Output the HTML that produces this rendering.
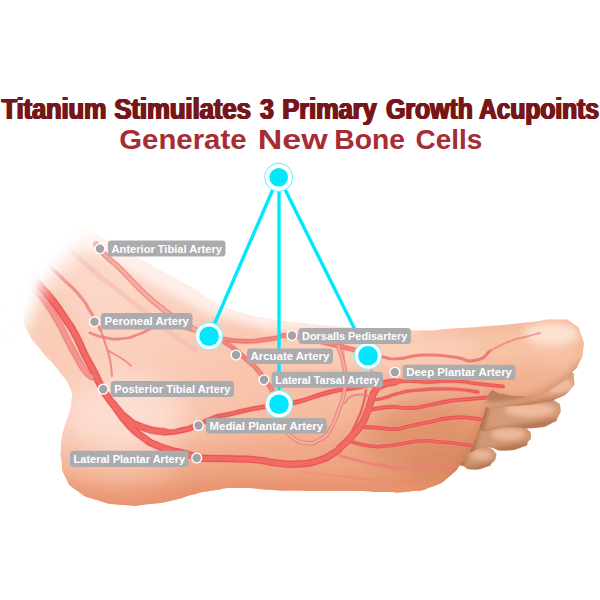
<!DOCTYPE html>
<html><head><meta charset="utf-8">
<style>
html,body{margin:0;padding:0;background:#fff;}
body{width:600px;height:600px;overflow:hidden;font-family:"Liberation Sans",sans-serif;}
svg{display:block}
.lb{font-family:"Liberation Sans",sans-serif;font-weight:bold;font-size:11.8px;fill:#fff;}
.t1{font-family:"Liberation Sans",sans-serif;font-weight:bold;font-size:29.6px;fill:#771619;}
.t2{font-family:"Liberation Sans",sans-serif;font-weight:bold;font-size:28.4px;fill:#a62d33;}
</style></head>
<body>
<svg width="600" height="600" viewBox="0 0 600 600">
<defs>
<clipPath id="fc"><path d="M20.0,185.0 C38.3,189.3 36.0,197.3 60.0,213.0 C84.0,228.7 62.0,214.8 92.0,232.0 C122.0,249.2 117.3,246.3 150.0,264.5 C182.7,282.7 168.3,273.8 190.0,286.5 C211.7,299.2 198.3,293.8 215.0,302.5 C231.7,311.2 220.0,306.7 240.0,312.5 C260.0,318.3 255.0,316.5 275.0,320.0 C295.0,323.5 275.0,320.5 300.0,323.0 C325.0,325.5 311.7,325.0 350.0,327.5 C388.3,330.0 380.7,330.2 415.0,330.5 C449.3,330.8 428.0,330.0 453.0,328.5 C478.0,327.0 465.3,328.0 490.0,326.0 C514.7,324.0 505.0,324.7 527.0,322.5 C549.0,320.3 540.7,319.2 556.0,319.5 C571.3,319.8 564.5,318.0 573.0,323.5 C581.5,329.0 578.2,326.8 581.5,336.0 C584.8,345.2 584.0,341.7 583.0,351.0 C582.0,360.3 582.0,357.0 578.5,364.0 C575.0,371.0 580.0,364.7 572.5,372.0 C565.0,379.3 567.5,378.5 556.0,386.0 C544.5,393.5 550.3,391.2 538.0,394.5 C525.7,397.8 531.3,396.3 519.0,396.0 C506.7,395.7 510.7,394.8 501.0,393.5 C491.3,392.2 495.3,386.5 490.0,392.0 C484.7,397.5 488.7,398.0 485.0,410.0 C481.3,422.0 483.4,415.8 479.0,428.0 C474.6,440.2 477.2,435.7 471.7,446.7 C466.2,457.7 469.8,451.2 462.5,461.0 C455.2,470.8 460.2,467.3 449.7,476.0 C439.2,484.7 444.6,481.9 431.0,487.0 C417.4,492.1 426.0,489.7 409.0,491.4 C392.0,493.1 398.7,492.1 380.0,492.0 C361.3,491.9 384.0,491.5 353.0,491.0 C322.0,490.5 324.7,491.5 287.0,490.5 C249.3,489.5 264.7,488.0 240.0,488.0 C215.3,488.0 228.7,488.3 213.0,490.5 C197.3,492.7 206.3,491.2 193.0,494.5 C179.7,497.8 187.3,497.1 173.0,500.3 C158.7,503.5 166.7,502.4 150.0,504.0 C133.3,505.6 140.7,506.3 123.0,505.0 C105.3,503.7 112.3,504.8 97.0,500.0 C81.7,495.2 87.5,498.2 77.0,490.5 C66.5,482.8 70.7,487.2 65.5,477.0 C60.3,466.8 63.0,469.7 61.5,460.0 C60.0,450.3 60.8,455.7 61.0,448.0 C61.2,440.3 60.7,444.7 62.0,437.0 C63.3,429.3 62.7,433.0 65.0,425.0 C67.3,417.0 66.8,421.0 69.0,413.0 C71.2,405.0 71.2,409.3 71.5,401.0 C71.8,392.7 74.2,398.0 70.0,388.0 C65.8,378.0 69.0,384.0 59.0,371.0 C49.0,358.0 50.3,362.0 40.0,349.0 C29.7,336.0 33.5,342.7 28.0,332.0 C22.5,321.3 24.8,329.3 23.5,317.0 C22.2,304.7 26.8,317.3 24.0,295.0 C21.2,272.7 21.3,281.7 15.0,250.0 C8.7,218.3 3.3,221.7 5.0,200.0 C6.7,178.3 1.7,180.7 20.0,185.0Z"/></clipPath>
<clipPath id="c2"><path d="M485.0,388.0 C496.7,379.3 498.3,385.3 520.0,380.0 C541.7,374.7 534.0,375.0 550.0,372.0 C566.0,369.0 560.0,368.7 568.0,371.0 C576.0,373.3 573.3,372.7 574.0,379.0 C574.7,385.3 576.0,383.3 570.0,390.0 C564.0,396.7 565.7,394.7 556.0,399.0 C546.3,403.3 555.7,400.7 541.0,403.0 C526.3,405.3 530.7,405.0 512.0,406.0 C493.3,407.0 494.0,412.0 485.0,406.0 C476.0,400.0 473.3,396.7 485.0,388.0Z"/></clipPath>
<clipPath id="c3"><path d="M480.0,402.0 C490.7,392.7 494.3,400.5 510.0,400.0 C525.7,399.5 515.0,400.8 527.0,400.5 C539.0,400.2 536.3,398.7 546.0,399.0 C555.7,399.3 551.2,398.5 556.0,401.5 C560.8,404.5 559.8,402.8 560.5,408.0 C561.2,413.2 560.8,412.0 558.0,417.0 C555.2,422.0 560.0,419.3 552.0,423.0 C544.0,426.7 548.7,426.7 534.0,428.0 C519.3,429.3 526.7,427.0 508.0,427.0 C489.3,427.0 487.3,436.3 478.0,428.0 C468.7,419.7 469.3,411.3 480.0,402.0Z"/></clipPath>
<clipPath id="c4"><path d="M472.0,426.0 C483.3,417.3 484.7,424.2 500.0,424.0 C515.3,423.8 509.0,423.8 518.0,425.5 C527.0,427.2 522.7,425.5 527.0,429.0 C531.3,432.5 530.7,431.7 531.0,436.0 C531.3,440.3 530.7,438.4 528.0,442.0 C525.3,445.6 530.8,443.9 523.0,446.7 C515.2,449.5 517.0,450.2 504.7,450.5 C492.4,450.8 498.9,447.7 486.0,447.5 C473.1,447.3 470.7,457.2 466.0,450.0 C461.3,442.8 460.7,434.7 472.0,426.0Z"/></clipPath>
<clipPath id="c5"><path d="M462.0,448.0 C469.7,442.7 469.3,446.2 478.0,446.0 C486.7,445.8 482.5,445.7 488.0,447.5 C493.5,449.3 491.8,448.3 494.5,451.5 C497.2,454.7 496.8,453.2 496.0,457.0 C495.2,460.8 495.3,459.7 492.0,463.0 C488.7,466.3 492.8,464.8 486.0,467.0 C479.2,469.2 479.4,469.8 471.7,469.5 C464.0,469.2 468.6,468.5 463.0,466.0 C457.4,463.5 455.3,468.0 455.0,462.0 C454.7,456.0 454.3,453.3 462.0,448.0Z"/></clipPath>
<linearGradient id="skin" gradientUnits="userSpaceOnUse" x1="150" y1="250" x2="330" y2="500">
<stop offset="0" stop-color="#fcd8ca"/><stop offset="0.45" stop-color="#f9c7b0"/><stop offset="1" stop-color="#f3b394"/>
</linearGradient>
<linearGradient id="toeg" gradientUnits="userSpaceOnUse" x1="0" y1="-14" x2="0" y2="14">
<stop offset="0" stop-color="#d99873"/><stop offset="0.45" stop-color="#f3bb98"/><stop offset="1" stop-color="#c98561"/>
</linearGradient>
<linearGradient id="fade" gradientUnits="userSpaceOnUse" x1="153" y1="153" x2="178" y2="178">
<stop offset="0" stop-color="#fff" stop-opacity="1"/><stop offset="0.23" stop-color="#fff" stop-opacity="0.86"/><stop offset="0.44" stop-color="#fff" stop-opacity="0.5"/><stop offset="0.71" stop-color="#fff" stop-opacity="0.17"/><stop offset="1" stop-color="#fff" stop-opacity="0"/>
</linearGradient>
<filter id="b2" x="-30%" y="-30%" width="160%" height="160%"><feGaussianBlur stdDeviation="2"/></filter>
<filter id="b4" x="-30%" y="-30%" width="160%" height="160%"><feGaussianBlur stdDeviation="4"/></filter>
<filter id="b8" x="-30%" y="-30%" width="160%" height="160%"><feGaussianBlur stdDeviation="8"/></filter>
<filter id="b14" x="-40%" y="-40%" width="180%" height="180%"><feGaussianBlur stdDeviation="14"/></filter>
<filter id="b1" x="-5%" y="-5%" width="110%" height="110%"><feGaussianBlur stdDeviation="0.7"/></filter>
</defs>
<rect width="600" height="600" fill="#fff"/>

<g filter="url(#b1)">
<!-- small toes (beneath body) -->
<g>
 <path d="M462.0,448.0 C469.7,442.7 469.3,446.2 478.0,446.0 C486.7,445.8 482.5,445.7 488.0,447.5 C493.5,449.3 491.8,448.3 494.5,451.5 C497.2,454.7 496.8,453.2 496.0,457.0 C495.2,460.8 495.3,459.7 492.0,463.0 C488.7,466.3 492.8,464.8 486.0,467.0 C479.2,469.2 479.4,469.8 471.7,469.5 C464.0,469.2 468.6,468.5 463.0,466.0 C457.4,463.5 455.3,468.0 455.0,462.0 C454.7,456.0 454.3,453.3 462.0,448.0Z" fill="#cf9470"/>
 <g clip-path="url(#c5)">
   <ellipse cx="481" cy="455" rx="11" ry="5.5" fill="#e9b394" filter="url(#b2)"/>
   <path d="M452,471 L500,461 L500,476 L452,476Z" fill="#a8643f" opacity=".65" filter="url(#b2)"/>
   <path d="M452,440 L468,440 L463,470 L452,470Z" fill="#96512f" opacity=".6" filter="url(#b2)"/>
 </g>
 <path d="M472.0,426.0 C483.3,417.3 484.7,424.2 500.0,424.0 C515.3,423.8 509.0,423.8 518.0,425.5 C527.0,427.2 522.7,425.5 527.0,429.0 C531.3,432.5 530.7,431.7 531.0,436.0 C531.3,440.3 530.7,438.4 528.0,442.0 C525.3,445.6 530.8,443.9 523.0,446.7 C515.2,449.5 517.0,450.2 504.7,450.5 C492.4,450.8 498.9,447.7 486.0,447.5 C473.1,447.3 470.7,457.2 466.0,450.0 C461.3,442.8 460.7,434.7 472.0,426.0Z" fill="#d29875"/>
 <g clip-path="url(#c4)">
   <ellipse cx="508" cy="434" rx="17" ry="6.5" fill="#ecb798" filter="url(#b2)"/>
   <path d="M460,453 L535,441 L535,460 L460,460Z" fill="#a8643f" opacity=".65" filter="url(#b2)"/>
   <path d="M462,418 L482,420 L474,452 L462,452Z" fill="#96512f" opacity=".6" filter="url(#b2)"/>
   <path d="M476,428 L528,424 L528,419 L476,420Z" fill="#96512f" opacity=".5" filter="url(#b2)"/>
 </g>
 <path d="M480.0,402.0 C490.7,392.7 494.3,400.5 510.0,400.0 C525.7,399.5 515.0,400.8 527.0,400.5 C539.0,400.2 536.3,398.7 546.0,399.0 C555.7,399.3 551.2,398.5 556.0,401.5 C560.8,404.5 559.8,402.8 560.5,408.0 C561.2,413.2 560.8,412.0 558.0,417.0 C555.2,422.0 560.0,419.3 552.0,423.0 C544.0,426.7 548.7,426.7 534.0,428.0 C519.3,429.3 526.7,427.0 508.0,427.0 C489.3,427.0 487.3,436.3 478.0,428.0 C468.7,419.7 469.3,411.3 480.0,402.0Z" fill="#d59b78"/>
 <g clip-path="url(#c3)">
   <ellipse cx="530" cy="410" rx="25" ry="7" fill="#eebb9c" filter="url(#b2)"/>
   <path d="M470,433 L565,417 L565,440 L470,440Z" fill="#a8643f" opacity=".65" filter="url(#b2)"/>
   <path d="M470,396 L492,396 L484,430 L470,430Z" fill="#96512f" opacity=".6" filter="url(#b2)"/>
   <path d="M488,404 L556,398 L556,392 L488,394Z" fill="#96512f" opacity=".45" filter="url(#b2)"/>
 </g>
 <path d="M485.0,388.0 C496.7,379.3 498.3,385.3 520.0,380.0 C541.7,374.7 534.0,375.0 550.0,372.0 C566.0,369.0 560.0,368.7 568.0,371.0 C576.0,373.3 573.3,372.7 574.0,379.0 C574.7,385.3 576.0,383.3 570.0,390.0 C564.0,396.7 565.7,394.7 556.0,399.0 C546.3,403.3 555.7,400.7 541.0,403.0 C526.3,405.3 530.7,405.0 512.0,406.0 C493.3,407.0 494.0,412.0 485.0,406.0 C476.0,400.0 473.3,396.7 485.0,388.0Z" fill="#dca280"/>
 <g clip-path="url(#c2)">
   <ellipse cx="556" cy="385" rx="16" ry="8" fill="#efbd9f" filter="url(#b2)"/>
   <path d="M478,411 L575,393 L575,415 L478,418Z" fill="#a8643f" opacity=".55" filter="url(#b2)"/>
   <path d="M486,402 C520,402 546,394 570,374 L572,360 L486,380Z" fill="#96512f" opacity=".45" filter="url(#b2)"/>
 </g>
</g>
<!-- body -->
<path d="M20.0,185.0 C38.3,189.3 36.0,197.3 60.0,213.0 C84.0,228.7 62.0,214.8 92.0,232.0 C122.0,249.2 117.3,246.3 150.0,264.5 C182.7,282.7 168.3,273.8 190.0,286.5 C211.7,299.2 198.3,293.8 215.0,302.5 C231.7,311.2 220.0,306.7 240.0,312.5 C260.0,318.3 255.0,316.5 275.0,320.0 C295.0,323.5 275.0,320.5 300.0,323.0 C325.0,325.5 311.7,325.0 350.0,327.5 C388.3,330.0 380.7,330.2 415.0,330.5 C449.3,330.8 428.0,330.0 453.0,328.5 C478.0,327.0 465.3,328.0 490.0,326.0 C514.7,324.0 505.0,324.7 527.0,322.5 C549.0,320.3 540.7,319.2 556.0,319.5 C571.3,319.8 564.5,318.0 573.0,323.5 C581.5,329.0 578.2,326.8 581.5,336.0 C584.8,345.2 584.0,341.7 583.0,351.0 C582.0,360.3 582.0,357.0 578.5,364.0 C575.0,371.0 580.0,364.7 572.5,372.0 C565.0,379.3 567.5,378.5 556.0,386.0 C544.5,393.5 550.3,391.2 538.0,394.5 C525.7,397.8 531.3,396.3 519.0,396.0 C506.7,395.7 510.7,394.8 501.0,393.5 C491.3,392.2 495.3,386.5 490.0,392.0 C484.7,397.5 488.7,398.0 485.0,410.0 C481.3,422.0 483.4,415.8 479.0,428.0 C474.6,440.2 477.2,435.7 471.7,446.7 C466.2,457.7 469.8,451.2 462.5,461.0 C455.2,470.8 460.2,467.3 449.7,476.0 C439.2,484.7 444.6,481.9 431.0,487.0 C417.4,492.1 426.0,489.7 409.0,491.4 C392.0,493.1 398.7,492.1 380.0,492.0 C361.3,491.9 384.0,491.5 353.0,491.0 C322.0,490.5 324.7,491.5 287.0,490.5 C249.3,489.5 264.7,488.0 240.0,488.0 C215.3,488.0 228.7,488.3 213.0,490.5 C197.3,492.7 206.3,491.2 193.0,494.5 C179.7,497.8 187.3,497.1 173.0,500.3 C158.7,503.5 166.7,502.4 150.0,504.0 C133.3,505.6 140.7,506.3 123.0,505.0 C105.3,503.7 112.3,504.8 97.0,500.0 C81.7,495.2 87.5,498.2 77.0,490.5 C66.5,482.8 70.7,487.2 65.5,477.0 C60.3,466.8 63.0,469.7 61.5,460.0 C60.0,450.3 60.8,455.7 61.0,448.0 C61.2,440.3 60.7,444.7 62.0,437.0 C63.3,429.3 62.7,433.0 65.0,425.0 C67.3,417.0 66.8,421.0 69.0,413.0 C71.2,405.0 71.2,409.3 71.5,401.0 C71.8,392.7 74.2,398.0 70.0,388.0 C65.8,378.0 69.0,384.0 59.0,371.0 C49.0,358.0 50.3,362.0 40.0,349.0 C29.7,336.0 33.5,342.7 28.0,332.0 C22.5,321.3 24.8,329.3 23.5,317.0 C22.2,304.7 26.8,317.3 24.0,295.0 C21.2,272.7 21.3,281.7 15.0,250.0 C8.7,218.3 3.3,221.7 5.0,200.0 C6.7,178.3 1.7,180.7 20.0,185.0Z" fill="url(#skin)"/>
<g clip-path="url(#fc)">
  <!-- lower salmon band (sole) -->
  <path d="M40,455 C120,462 220,440 320,436 C380,434 430,400 500,395 L520,520 L40,520Z" fill="#efa583" opacity="0.95" filter="url(#b14)"/>
  <!-- ball of foot darker -->
  <ellipse cx="432" cy="445" rx="66" ry="46" fill="#df936c" opacity="0.9" filter="url(#b14)"/>
  <ellipse cx="450" cy="468" rx="42" ry="24" fill="#d4875f" opacity="0.6" filter="url(#b8)"/>
  <!-- sole bottom edge -->
  <path d="M50,470 C80,484 110,486 150,485 C190,481 210,478 287,477 L430,478 L470,460 L470,530 L50,530Z" fill="#e58c65" opacity="0.72" filter="url(#b8)"/>
  <ellipse cx="115" cy="462" rx="65" ry="24" fill="#f8c3aa" opacity="0.7" filter="url(#b14)"/>
  <!-- ankle / upper heel light -->
  <ellipse cx="125" cy="415" rx="60" ry="40" fill="#fde0d5" opacity="0.85" filter="url(#b14)"/>
  <ellipse cx="50" cy="335" rx="36" ry="55" fill="#f9c9b4" opacity="0.75" filter="url(#b14)"/>
  <!-- dorsum highlight along top edge -->
  <path d="M85,215 L150,248 L215,286 L275,307 L350,314 L420,318 L420,331 L350,335 L270,331 L205,313 L140,277 L80,245Z" fill="#fff1ec" opacity="0.92" filter="url(#b4)"/>
  <ellipse cx="375" cy="350" rx="140" ry="19" fill="#fcd3bd" opacity="0.8" filter="url(#b8)"/>
  <!-- big toe -->
  <ellipse cx="528" cy="352" rx="56" ry="26" fill="#f7c3a6" opacity="0.95" filter="url(#b8)"/>
  <ellipse cx="520" cy="376" rx="50" ry="12" fill="#f0af8c" opacity="0.7" filter="url(#b8)"/>
  <ellipse cx="552" cy="334" rx="28" ry="12" fill="#fde4d5" opacity="0.95" filter="url(#b4)"/>
  <path d="M488,396 C520,402 556,392 582,360 L595,385 L520,415Z" fill="#c9855e" opacity="0.75" filter="url(#b4)"/>
  <!-- ball edge shadow -->
  <path d="M493,394 C489,418 478,448 452,480" fill="none" stroke="#b8724d" stroke-width="8" opacity="0.6" filter="url(#b4)"/>
</g>
<!-- arteries -->
<g clip-path="url(#fc)">
<path d="M22.0,274.0 C25.6,278.4 25.1,278.4 32.7,287.3 C40.3,296.2 36.8,290.1 44.7,300.7 C52.6,311.3 49.2,306.6 56.5,319.0 C63.8,331.4 59.8,325.4 66.5,338.0 C73.2,350.6 70.5,346.0 76.5,356.7 C82.5,367.4 79.3,363.2 84.5,370.0 C89.7,376.8 89.5,374.7 92.0,377.0" fill="none" stroke="#f0908a" stroke-width="7.800000000000001" stroke-linecap="round" stroke-linejoin="round" opacity="0.4275" /><path d="M22.0,274.0 C25.6,278.4 25.1,278.4 32.7,287.3 C40.3,296.2 36.8,290.1 44.7,300.7 C52.6,311.3 49.2,306.6 56.5,319.0 C63.8,331.4 59.8,325.4 66.5,338.0 C73.2,350.6 70.5,346.0 76.5,356.7 C82.5,367.4 79.3,363.2 84.5,370.0 C89.7,376.8 89.5,374.7 92.0,377.0" fill="none" stroke="#ee827c" stroke-width="6.2" stroke-linecap="round" stroke-linejoin="round" opacity="0.95" />
<path d="M29.0,272.0 C32.3,276.2 31.1,275.1 39.0,284.7 C46.9,294.3 43.9,289.3 52.7,300.7 C61.5,312.1 57.9,307.6 65.5,319.0 C73.1,330.4 69.2,323.3 75.5,335.0 C81.8,346.7 78.7,342.3 84.5,354.0 C90.3,365.7 87.5,359.3 93.0,370.0 C98.5,380.7 96.3,377.3 101.0,386.0 C105.7,394.7 103.0,390.0 107.0,396.0 C111.0,402.0 108.7,398.7 113.0,404.0 C117.3,409.3 117.7,409.3 120.0,412.0" fill="none" stroke="#f0908a" stroke-width="8.8" stroke-linecap="round" stroke-linejoin="round" opacity="0.45" /><path d="M29.0,272.0 C32.3,276.2 31.1,275.1 39.0,284.7 C46.9,294.3 43.9,289.3 52.7,300.7 C61.5,312.1 57.9,307.6 65.5,319.0 C73.1,330.4 69.2,323.3 75.5,335.0 C81.8,346.7 78.7,342.3 84.5,354.0 C90.3,365.7 87.5,359.3 93.0,370.0 C98.5,380.7 96.3,377.3 101.0,386.0 C105.7,394.7 103.0,390.0 107.0,396.0 C111.0,402.0 108.7,398.7 113.0,404.0 C117.3,409.3 117.7,409.3 120.0,412.0" fill="none" stroke="#e8524f" stroke-width="7.2" stroke-linecap="round" stroke-linejoin="round" opacity="1" />
<path d="M113.0,404.0 C117.0,408.3 115.0,409.2 125.0,417.0 C135.0,424.8 129.7,422.5 143.0,427.5 C156.3,432.5 157.7,430.5 165.0,432.0" fill="none" stroke="#f0908a" stroke-width="8.6" stroke-linecap="round" stroke-linejoin="round" opacity="0.45" /><path d="M113.0,404.0 C117.0,408.3 115.0,409.2 125.0,417.0 C135.0,424.8 129.7,422.5 143.0,427.5 C156.3,432.5 157.7,430.5 165.0,432.0" fill="none" stroke="#e8524f" stroke-width="7.0" stroke-linecap="round" stroke-linejoin="round" opacity="1" />
<path d="M143.0,427.5 C150.3,429.0 151.7,431.2 165.0,432.0 C178.3,432.8 173.3,431.8 183.0,430.0 C192.7,428.2 189.0,428.0 194.0,426.5 C199.0,425.0 196.7,425.8 198.0,425.5" fill="none" stroke="#f0908a" stroke-width="7.0" stroke-linecap="round" stroke-linejoin="round" opacity="0.45" /><path d="M143.0,427.5 C150.3,429.0 151.7,431.2 165.0,432.0 C178.3,432.8 173.3,431.8 183.0,430.0 C192.7,428.2 189.0,428.0 194.0,426.5 C199.0,425.0 196.7,425.8 198.0,425.5" fill="none" stroke="#e8524f" stroke-width="5.4" stroke-linecap="round" stroke-linejoin="round" opacity="1" />
<path d="M198.0,425.5 C203.0,423.0 202.3,421.8 213.0,418.0 C223.7,414.2 218.7,416.7 230.0,414.0 C241.3,411.3 236.0,412.3 247.0,410.0 C258.0,407.7 252.0,409.0 263.0,407.0 C274.0,405.0 268.7,405.7 280.0,404.0 C291.3,402.3 280.3,406.0 297.0,402.0 C313.7,398.0 311.3,396.7 330.0,392.0 C348.7,387.3 336.3,391.0 353.0,388.0 C369.7,385.0 364.3,385.3 380.0,383.0 C395.7,380.7 393.3,381.7 400.0,381.0" fill="none" stroke="#f0908a" stroke-width="6.0" stroke-linecap="round" stroke-linejoin="round" opacity="0.4275" /><path d="M198.0,425.5 C203.0,423.0 202.3,421.8 213.0,418.0 C223.7,414.2 218.7,416.7 230.0,414.0 C241.3,411.3 236.0,412.3 247.0,410.0 C258.0,407.7 252.0,409.0 263.0,407.0 C274.0,405.0 268.7,405.7 280.0,404.0 C291.3,402.3 280.3,406.0 297.0,402.0 C313.7,398.0 311.3,396.7 330.0,392.0 C348.7,387.3 336.3,391.0 353.0,388.0 C369.7,385.0 364.3,385.3 380.0,383.0 C395.7,380.7 393.3,381.7 400.0,381.0" fill="none" stroke="#e8524f" stroke-width="4.4" stroke-linecap="round" stroke-linejoin="round" opacity="0.95" />
<path d="M116.0,408.0 C120.0,413.3 118.7,414.0 128.0,424.0 C137.3,434.0 134.7,431.0 144.0,438.0 C153.3,445.0 147.3,441.0 156.0,445.0 C164.7,449.0 162.0,447.5 170.0,450.0 C178.0,452.5 173.3,450.8 180.0,452.5 C186.7,454.2 184.3,453.2 190.0,455.0 C195.7,456.8 192.3,456.7 197.0,457.8 C201.7,458.9 192.0,458.0 204.0,458.3 C216.0,458.6 215.3,458.2 233.0,458.8 C250.7,459.4 242.3,458.6 257.0,460.0 C271.7,461.4 263.7,461.7 277.0,463.0 C290.3,464.3 283.7,464.7 297.0,464.0 C310.3,463.3 305.0,464.5 317.0,461.0 C329.0,457.5 324.7,458.5 333.0,453.5 C341.3,448.5 335.7,451.8 342.0,446.0 C348.3,440.2 345.7,443.0 352.0,436.0 C358.3,429.0 356.0,432.7 361.0,425.0 C366.0,417.3 363.7,421.0 367.0,413.0 C370.3,405.0 368.3,408.3 371.0,401.0 C373.7,393.7 371.3,396.3 375.0,391.0 C378.7,385.7 375.3,388.0 382.0,385.0 C388.7,382.0 390.7,383.0 395.0,382.0" fill="none" stroke="#f0908a" stroke-width="8.6" stroke-linecap="round" stroke-linejoin="round" opacity="0.45" /><path d="M116.0,408.0 C120.0,413.3 118.7,414.0 128.0,424.0 C137.3,434.0 134.7,431.0 144.0,438.0 C153.3,445.0 147.3,441.0 156.0,445.0 C164.7,449.0 162.0,447.5 170.0,450.0 C178.0,452.5 173.3,450.8 180.0,452.5 C186.7,454.2 184.3,453.2 190.0,455.0 C195.7,456.8 192.3,456.7 197.0,457.8 C201.7,458.9 192.0,458.0 204.0,458.3 C216.0,458.6 215.3,458.2 233.0,458.8 C250.7,459.4 242.3,458.6 257.0,460.0 C271.7,461.4 263.7,461.7 277.0,463.0 C290.3,464.3 283.7,464.7 297.0,464.0 C310.3,463.3 305.0,464.5 317.0,461.0 C329.0,457.5 324.7,458.5 333.0,453.5 C341.3,448.5 335.7,451.8 342.0,446.0 C348.3,440.2 345.7,443.0 352.0,436.0 C358.3,429.0 356.0,432.7 361.0,425.0 C366.0,417.3 363.7,421.0 367.0,413.0 C370.3,405.0 368.3,408.3 371.0,401.0 C373.7,393.7 371.3,396.3 375.0,391.0 C378.7,385.7 375.3,388.0 382.0,385.0 C388.7,382.0 390.7,383.0 395.0,382.0" fill="none" stroke="#e8524f" stroke-width="7.0" stroke-linecap="round" stroke-linejoin="round" opacity="1" />
<path d="M96.0,244.0 C99.0,247.7 96.3,246.2 105.0,255.0 C113.7,263.8 110.0,258.8 122.0,270.5 C134.0,282.2 128.0,277.7 141.0,290.0 C154.0,302.3 148.0,297.2 161.0,307.5 C174.0,317.8 168.3,313.5 180.0,321.0 C191.7,328.5 186.3,325.0 196.0,330.0 C205.7,335.0 204.7,334.0 209.0,336.0" fill="none" stroke="#ea7d76" stroke-width="5.6" stroke-linecap="round" stroke-linejoin="round" opacity="0.9" />
<path d="M50.0,266.0 C54.3,270.3 53.3,269.3 63.0,279.0 C72.7,288.7 70.0,284.3 79.0,295.0 C88.0,305.7 82.8,299.3 90.0,311.0 C97.2,322.7 97.1,323.7 100.7,330.0" fill="none" stroke="#ee7d78" stroke-width="3.2" stroke-linecap="round" stroke-linejoin="round" opacity="0.8" />
<path d="M90.0,333.0 C95.0,334.5 94.2,335.6 105.0,337.5 C115.8,339.4 110.8,340.0 122.5,338.7 C134.2,337.4 129.2,337.4 140.0,333.7 C150.8,330.0 144.2,330.1 155.0,327.5 C165.8,324.9 160.8,325.2 172.5,326.0 C184.2,326.8 178.2,327.0 190.0,330.0 C201.8,333.0 202.0,333.3 208.0,335.0" fill="none" stroke="#ee7d78" stroke-width="2.8" stroke-linecap="round" stroke-linejoin="round" opacity="0.85" />
<path d="M100.7,330.0 C102.5,335.3 102.9,336.0 106.0,346.0 C109.1,356.0 108.0,350.0 110.0,360.0 C112.0,370.0 111.3,370.7 112.0,376.0" fill="none" stroke="#ee7d78" stroke-width="2.2" stroke-linecap="round" stroke-linejoin="round" opacity="0.8" />
<path d="M108.0,350.0 C110.0,351.3 108.7,350.7 114.0,354.0 C119.3,357.3 118.3,356.0 124.0,360.0 C129.7,364.0 128.7,364.0 131.0,366.0" fill="none" stroke="#ee7d78" stroke-width="1.8" stroke-linecap="round" stroke-linejoin="round" opacity="0.8" />
<path d="M60.0,240.0 C70.0,249.3 70.0,250.7 90.0,268.0 C110.0,285.3 100.0,276.0 120.0,292.0 C140.0,308.0 131.7,301.3 150.0,316.0 C168.3,330.7 160.0,324.7 175.0,336.0 C190.0,347.3 188.3,345.3 195.0,350.0" fill="none" stroke="#f6b3a8" stroke-width="5" stroke-linecap="round" stroke-linejoin="round" opacity="0.45" />
<path d="M209.0,336.0 C213.7,337.7 210.3,333.0 223.0,341.0 C235.7,349.0 234.7,349.3 247.0,360.0 C259.3,370.7 252.3,364.0 260.0,373.0 C267.7,382.0 264.0,377.7 270.0,387.0 C276.0,396.3 275.3,396.3 278.0,401.0" fill="none" stroke="#f0908a" stroke-width="6.0" stroke-linecap="round" stroke-linejoin="round" opacity="0.405" /><path d="M209.0,336.0 C213.7,337.7 210.3,333.0 223.0,341.0 C235.7,349.0 234.7,349.3 247.0,360.0 C259.3,370.7 252.3,364.0 260.0,373.0 C267.7,382.0 264.0,377.7 270.0,387.0 C276.0,396.3 275.3,396.3 278.0,401.0" fill="none" stroke="#ec6f69" stroke-width="4.4" stroke-linecap="round" stroke-linejoin="round" opacity="0.9" />
<path d="M209.0,336.0 C219.3,337.7 219.7,340.0 240.0,341.0 C260.3,342.0 252.7,340.7 270.0,339.0 C287.3,337.3 272.0,334.3 292.0,336.0 C312.0,337.7 305.3,338.3 330.0,344.0 C354.7,349.7 354.0,350.0 366.0,353.0" fill="none" stroke="#f0908a" stroke-width="6.0" stroke-linecap="round" stroke-linejoin="round" opacity="0.405" /><path d="M209.0,336.0 C219.3,337.7 219.7,340.0 240.0,341.0 C260.3,342.0 252.7,340.7 270.0,339.0 C287.3,337.3 272.0,334.3 292.0,336.0 C312.0,337.7 305.3,338.3 330.0,344.0 C354.7,349.7 354.0,350.0 366.0,353.0" fill="none" stroke="#ec6f69" stroke-width="4.4" stroke-linecap="round" stroke-linejoin="round" opacity="0.9" />
<path d="M366.0,353.0 C371.7,354.3 372.3,355.1 383.0,357.0 C393.7,358.9 384.3,359.4 398.0,358.7 C411.7,358.0 405.7,355.6 424.0,355.0 C442.3,354.4 436.0,355.2 453.0,357.0 C470.0,358.8 462.7,362.5 475.0,360.5 C487.3,358.5 485.0,354.2 490.0,351.0" fill="none" stroke="#ea6a66" stroke-width="3.0" stroke-linecap="round" stroke-linejoin="round" opacity="0.8" />
<path d="M490.0,351.0 C496.0,348.0 495.7,346.8 508.0,342.0 C520.3,337.2 516.3,339.5 527.0,336.5 C537.7,333.5 535.7,334.2 540.0,333.0" fill="none" stroke="#e9807c" stroke-width="2.0" stroke-linecap="round" stroke-linejoin="round" opacity="0.7" />
<path d="M395.0,382.0 C400.0,381.7 398.3,381.0 410.0,381.0 C421.7,381.0 415.7,382.0 430.0,382.0 C444.3,382.0 436.3,380.3 453.0,381.0 C469.7,381.7 463.3,382.2 480.0,384.0 C496.7,385.8 495.3,385.7 503.0,386.5" fill="none" stroke="#f0908a" stroke-width="5.2" stroke-linecap="round" stroke-linejoin="round" opacity="0.405" /><path d="M395.0,382.0 C400.0,381.7 398.3,381.0 410.0,381.0 C421.7,381.0 415.7,382.0 430.0,382.0 C444.3,382.0 436.3,380.3 453.0,381.0 C469.7,381.7 463.3,382.2 480.0,384.0 C496.7,385.8 495.3,385.7 503.0,386.5" fill="none" stroke="#e8524f" stroke-width="3.6" stroke-linecap="round" stroke-linejoin="round" opacity="0.9" />
<path d="M372.0,400.0 C376.0,399.3 374.7,400.3 384.0,398.0 C393.3,395.7 388.0,395.7 400.0,393.0 C412.0,390.3 403.3,391.3 420.0,390.0 C436.7,388.7 430.7,388.3 450.0,389.0 C469.3,389.7 468.7,391.0 478.0,392.0" fill="none" stroke="#f0908a" stroke-width="4.800000000000001" stroke-linecap="round" stroke-linejoin="round" opacity="0.3825" /><path d="M372.0,400.0 C376.0,399.3 374.7,400.3 384.0,398.0 C393.3,395.7 388.0,395.7 400.0,393.0 C412.0,390.3 403.3,391.3 420.0,390.0 C436.7,388.7 430.7,388.3 450.0,389.0 C469.3,389.7 468.7,391.0 478.0,392.0" fill="none" stroke="#e8524f" stroke-width="3.2" stroke-linecap="round" stroke-linejoin="round" opacity="0.85" />
<path d="M370.0,410.0 C376.7,409.0 376.7,407.7 390.0,407.0 C403.3,406.3 396.7,408.7 410.0,408.0 C423.3,407.3 416.7,407.3 430.0,405.0 C443.3,402.7 436.7,403.0 450.0,401.0 C463.3,399.0 456.0,400.3 470.0,399.0 C484.0,397.7 484.7,397.7 492.0,397.0" fill="none" stroke="#f0908a" stroke-width="5.4" stroke-linecap="round" stroke-linejoin="round" opacity="0.4275" /><path d="M370.0,410.0 C376.7,409.0 376.7,407.7 390.0,407.0 C403.3,406.3 396.7,408.7 410.0,408.0 C423.3,407.3 416.7,407.3 430.0,405.0 C443.3,402.7 436.7,403.0 450.0,401.0 C463.3,399.0 456.0,400.3 470.0,399.0 C484.0,397.7 484.7,397.7 492.0,397.0" fill="none" stroke="#e8524f" stroke-width="3.8" stroke-linecap="round" stroke-linejoin="round" opacity="0.95" />
<path d="M364.0,427.0 C369.3,427.3 369.3,427.3 380.0,428.0 C390.7,428.7 386.0,429.7 396.0,429.0 C406.0,428.3 398.7,428.3 410.0,426.0 C421.3,423.7 416.7,424.7 430.0,422.0 C443.3,419.3 436.7,419.3 450.0,418.0 C463.3,416.7 458.0,417.0 470.0,418.0 C482.0,419.0 480.7,420.0 486.0,421.0" fill="none" stroke="#f0908a" stroke-width="5.4" stroke-linecap="round" stroke-linejoin="round" opacity="0.4275" /><path d="M364.0,427.0 C369.3,427.3 369.3,427.3 380.0,428.0 C390.7,428.7 386.0,429.7 396.0,429.0 C406.0,428.3 398.7,428.3 410.0,426.0 C421.3,423.7 416.7,424.7 430.0,422.0 C443.3,419.3 436.7,419.3 450.0,418.0 C463.3,416.7 458.0,417.0 470.0,418.0 C482.0,419.0 480.7,420.0 486.0,421.0" fill="none" stroke="#e8524f" stroke-width="3.8" stroke-linecap="round" stroke-linejoin="round" opacity="0.95" />
<path d="M352.0,442.0 C358.0,443.3 359.0,444.7 370.0,446.0 C381.0,447.3 375.0,446.7 385.0,446.0 C395.0,445.3 388.3,445.7 400.0,444.0 C411.7,442.3 406.7,441.7 420.0,441.0 C433.3,440.3 426.7,441.0 440.0,442.0 C453.3,443.0 447.3,442.3 460.0,444.0 C472.7,445.7 472.0,446.0 478.0,447.0" fill="none" stroke="#f0908a" stroke-width="5.2" stroke-linecap="round" stroke-linejoin="round" opacity="0.405" /><path d="M352.0,442.0 C358.0,443.3 359.0,444.7 370.0,446.0 C381.0,447.3 375.0,446.7 385.0,446.0 C395.0,445.3 388.3,445.7 400.0,444.0 C411.7,442.3 406.7,441.7 420.0,441.0 C433.3,440.3 426.7,441.0 440.0,442.0 C453.3,443.0 447.3,442.3 460.0,444.0 C472.7,445.7 472.0,446.0 478.0,447.0" fill="none" stroke="#e8524f" stroke-width="3.6" stroke-linecap="round" stroke-linejoin="round" opacity="0.9" />
<path d="M340.0,456.0 C346.7,457.7 346.7,458.0 360.0,461.0 C373.3,464.0 366.7,462.7 380.0,465.0 C393.3,467.3 386.7,467.3 400.0,468.0 C413.3,468.7 406.7,467.7 420.0,467.0 C433.3,466.3 428.0,466.0 440.0,466.0 C452.0,466.0 450.7,466.7 456.0,467.0" fill="none" stroke="#ee7d78" stroke-width="3.0" stroke-linecap="round" stroke-linejoin="round" opacity="0.75" />
<path d="M300.0,472.0 C313.3,473.3 313.3,473.3 340.0,476.0 C366.7,478.7 353.3,478.7 380.0,480.0 C406.7,481.3 406.7,480.0 420.0,480.0" fill="none" stroke="#ee7d78" stroke-width="2.2" stroke-linecap="round" stroke-linejoin="round" opacity="0.35" />
<path d="M287.0,430.0 C288.7,432.3 285.7,432.7 292.0,437.0 C298.3,441.3 296.7,442.2 306.0,443.0 C315.3,443.8 312.0,443.8 320.0,439.5 C328.0,435.2 324.0,439.2 330.0,430.0 C336.0,420.8 333.3,424.3 338.0,412.0 C342.7,399.7 341.7,405.0 344.0,393.0 C346.3,381.0 345.3,386.3 345.0,376.0 C344.7,365.7 345.3,372.0 343.0,362.0 C340.7,352.0 339.7,351.3 338.0,346.0" fill="none" stroke="#ea7d76" stroke-width="4.2" stroke-linecap="round" stroke-linejoin="round" opacity="0.95" />
<path d="M366.0,390.0 C365.0,395.0 366.0,394.7 363.0,405.0 C360.0,415.3 361.7,410.3 357.0,421.0 C352.3,431.7 351.7,431.7 349.0,437.0" fill="none" stroke="#e65855" stroke-width="2.4" stroke-linecap="round" stroke-linejoin="round" opacity="0.85" />
<path d="M345.0,403.0 C348.3,400.3 346.0,397.0 355.0,395.0 C364.0,393.0 366.3,396.3 372.0,397.0" fill="none" stroke="#ee7d78" stroke-width="2.0" stroke-linecap="round" stroke-linejoin="round" opacity="0.8" />
<path d="M343.0,345.0 C343.7,351.7 342.7,351.7 345.0,365.0 C347.3,378.3 348.3,378.3 350.0,385.0" fill="none" stroke="#ee7d78" stroke-width="1.8" stroke-linecap="round" stroke-linejoin="round" opacity="0.7" />
<path d="M366.0,353.0 C368.0,359.3 367.3,359.7 372.0,372.0 C376.7,384.3 377.3,384.0 380.0,390.0" fill="none" stroke="#ee7d78" stroke-width="2.0" stroke-linecap="round" stroke-linejoin="round" opacity="0.7" />
<path d="M22.0,274.0 C25.6,278.4 25.1,278.4 32.7,287.3 C40.3,296.2 36.8,290.1 44.7,300.7 C52.6,311.3 49.2,306.6 56.5,319.0 C63.8,331.4 59.8,325.4 66.5,338.0 C73.2,350.6 70.5,346.0 76.5,356.7 C82.5,367.4 79.3,363.2 84.5,370.0 C89.7,376.8 89.5,374.7 92.0,377.0" fill="none" stroke="#f3968f" stroke-width="4.0" stroke-linecap="round" stroke-linejoin="round" opacity="0.95" />
<path d="M29.0,272.0 C32.3,276.2 31.1,275.1 39.0,284.7 C46.9,294.3 43.9,289.3 52.7,300.7 C61.5,312.1 57.9,307.6 65.5,319.0 C73.1,330.4 69.2,323.3 75.5,335.0 C81.8,346.7 78.7,342.3 84.5,354.0 C90.3,365.7 87.5,359.3 93.0,370.0 C98.5,380.7 96.3,377.3 101.0,386.0 C105.7,394.7 103.0,390.0 107.0,396.0 C111.0,402.0 108.7,398.7 113.0,404.0 C117.3,409.3 117.7,409.3 120.0,412.0" fill="none" stroke="#f26a66" stroke-width="5.0" stroke-linecap="round" stroke-linejoin="round" opacity="1" />
<path d="M113.0,404.0 C117.0,408.3 115.0,409.2 125.0,417.0 C135.0,424.8 129.7,422.5 143.0,427.5 C156.3,432.5 157.7,430.5 165.0,432.0" fill="none" stroke="#f26a66" stroke-width="4.8" stroke-linecap="round" stroke-linejoin="round" opacity="1" />
<path d="M143.0,427.5 C150.3,429.0 151.7,431.2 165.0,432.0 C178.3,432.8 173.3,431.8 183.0,430.0 C192.7,428.2 189.0,428.0 194.0,426.5 C199.0,425.0 196.7,425.8 198.0,425.5" fill="none" stroke="#f26a66" stroke-width="3.2" stroke-linecap="round" stroke-linejoin="round" opacity="1" />
<path d="M198.0,425.5 C203.0,423.0 202.3,421.8 213.0,418.0 C223.7,414.2 218.7,416.7 230.0,414.0 C241.3,411.3 236.0,412.3 247.0,410.0 C258.0,407.7 252.0,409.0 263.0,407.0 C274.0,405.0 268.7,405.7 280.0,404.0 C291.3,402.3 280.3,406.0 297.0,402.0 C313.7,398.0 311.3,396.7 330.0,392.0 C348.7,387.3 336.3,391.0 353.0,388.0 C369.7,385.0 364.3,385.3 380.0,383.0 C395.7,380.7 393.3,381.7 400.0,381.0" fill="none" stroke="#f26a66" stroke-width="2.2" stroke-linecap="round" stroke-linejoin="round" opacity="0.95" />
<path d="M116.0,408.0 C120.0,413.3 118.7,414.0 128.0,424.0 C137.3,434.0 134.7,431.0 144.0,438.0 C153.3,445.0 147.3,441.0 156.0,445.0 C164.7,449.0 162.0,447.5 170.0,450.0 C178.0,452.5 173.3,450.8 180.0,452.5 C186.7,454.2 184.3,453.2 190.0,455.0 C195.7,456.8 192.3,456.7 197.0,457.8 C201.7,458.9 192.0,458.0 204.0,458.3 C216.0,458.6 215.3,458.2 233.0,458.8 C250.7,459.4 242.3,458.6 257.0,460.0 C271.7,461.4 263.7,461.7 277.0,463.0 C290.3,464.3 283.7,464.7 297.0,464.0 C310.3,463.3 305.0,464.5 317.0,461.0 C329.0,457.5 324.7,458.5 333.0,453.5 C341.3,448.5 335.7,451.8 342.0,446.0 C348.3,440.2 345.7,443.0 352.0,436.0 C358.3,429.0 356.0,432.7 361.0,425.0 C366.0,417.3 363.7,421.0 367.0,413.0 C370.3,405.0 368.3,408.3 371.0,401.0 C373.7,393.7 371.3,396.3 375.0,391.0 C378.7,385.7 375.3,388.0 382.0,385.0 C388.7,382.0 390.7,383.0 395.0,382.0" fill="none" stroke="#f26a66" stroke-width="4.8" stroke-linecap="round" stroke-linejoin="round" opacity="1" />
<path d="M96.0,244.0 C99.0,247.7 96.3,246.2 105.0,255.0 C113.7,263.8 110.0,258.8 122.0,270.5 C134.0,282.2 128.0,277.7 141.0,290.0 C154.0,302.3 148.0,297.2 161.0,307.5 C174.0,317.8 168.3,313.5 180.0,321.0 C191.7,328.5 186.3,325.0 196.0,330.0 C205.7,335.0 204.7,334.0 209.0,336.0" fill="none" stroke="#f5b0a5" stroke-width="3.5999999999999996" stroke-linecap="round" stroke-linejoin="round" opacity="0.9" />
<path d="M209.0,336.0 C213.7,337.7 210.3,333.0 223.0,341.0 C235.7,349.0 234.7,349.3 247.0,360.0 C259.3,370.7 252.3,364.0 260.0,373.0 C267.7,382.0 264.0,377.7 270.0,387.0 C276.0,396.3 275.3,396.3 278.0,401.0" fill="none" stroke="#f38a83" stroke-width="2.2" stroke-linecap="round" stroke-linejoin="round" opacity="0.9" />
<path d="M209.0,336.0 C219.3,337.7 219.7,340.0 240.0,341.0 C260.3,342.0 252.7,340.7 270.0,339.0 C287.3,337.3 272.0,334.3 292.0,336.0 C312.0,337.7 305.3,338.3 330.0,344.0 C354.7,349.7 354.0,350.0 366.0,353.0" fill="none" stroke="#f38a83" stroke-width="2.2" stroke-linecap="round" stroke-linejoin="round" opacity="0.9" />
<path d="M395.0,382.0 C400.0,381.7 398.3,381.0 410.0,381.0 C421.7,381.0 415.7,382.0 430.0,382.0 C444.3,382.0 436.3,380.3 453.0,381.0 C469.7,381.7 463.3,382.2 480.0,384.0 C496.7,385.8 495.3,385.7 503.0,386.5" fill="none" stroke="#f26a66" stroke-width="1.4" stroke-linecap="round" stroke-linejoin="round" opacity="0.9" />
<path d="M372.0,400.0 C376.0,399.3 374.7,400.3 384.0,398.0 C393.3,395.7 388.0,395.7 400.0,393.0 C412.0,390.3 403.3,391.3 420.0,390.0 C436.7,388.7 430.7,388.3 450.0,389.0 C469.3,389.7 468.7,391.0 478.0,392.0" fill="none" stroke="#f26a66" stroke-width="1.0" stroke-linecap="round" stroke-linejoin="round" opacity="0.85" />
<path d="M370.0,410.0 C376.7,409.0 376.7,407.7 390.0,407.0 C403.3,406.3 396.7,408.7 410.0,408.0 C423.3,407.3 416.7,407.3 430.0,405.0 C443.3,402.7 436.7,403.0 450.0,401.0 C463.3,399.0 456.0,400.3 470.0,399.0 C484.0,397.7 484.7,397.7 492.0,397.0" fill="none" stroke="#f26a66" stroke-width="1.5999999999999996" stroke-linecap="round" stroke-linejoin="round" opacity="0.95" />
<path d="M364.0,427.0 C369.3,427.3 369.3,427.3 380.0,428.0 C390.7,428.7 386.0,429.7 396.0,429.0 C406.0,428.3 398.7,428.3 410.0,426.0 C421.3,423.7 416.7,424.7 430.0,422.0 C443.3,419.3 436.7,419.3 450.0,418.0 C463.3,416.7 458.0,417.0 470.0,418.0 C482.0,419.0 480.7,420.0 486.0,421.0" fill="none" stroke="#f26a66" stroke-width="1.5999999999999996" stroke-linecap="round" stroke-linejoin="round" opacity="0.95" />
<path d="M352.0,442.0 C358.0,443.3 359.0,444.7 370.0,446.0 C381.0,447.3 375.0,446.7 385.0,446.0 C395.0,445.3 388.3,445.7 400.0,444.0 C411.7,442.3 406.7,441.7 420.0,441.0 C433.3,440.3 426.7,441.0 440.0,442.0 C453.3,443.0 447.3,442.3 460.0,444.0 C472.7,445.7 472.0,446.0 478.0,447.0" fill="none" stroke="#f26a66" stroke-width="1.4" stroke-linecap="round" stroke-linejoin="round" opacity="0.9" />
<path d="M287.0,430.0 C288.7,432.3 285.7,432.7 292.0,437.0 C298.3,441.3 296.7,442.2 306.0,443.0 C315.3,443.8 312.0,443.8 320.0,439.5 C328.0,435.2 324.0,439.2 330.0,430.0 C336.0,420.8 333.3,424.3 338.0,412.0 C342.7,399.7 341.7,405.0 344.0,393.0 C346.3,381.0 345.3,386.3 345.0,376.0 C344.7,365.7 345.3,372.0 343.0,362.0 C340.7,352.0 339.7,351.3 338.0,346.0" fill="none" stroke="#f5b0a5" stroke-width="2.2" stroke-linecap="round" stroke-linejoin="round" opacity="0.95" />
</g>
<!-- fade upper-left -->
<path d="M-10,180 L34,180 L36,290 L30,318 L18,338 L-10,350Z" fill="#fff" filter="url(#b8)"/>
<rect x="0" y="30" width="300" height="330" fill="url(#fade)"/>
</g>

<g stroke="#00e8fb" stroke-width="3.4" stroke-linecap="butt">
<line x1="278.3" y1="177" x2="209.1" y2="336.2"/>
<line x1="279" y1="177" x2="279" y2="402"/>
<line x1="278.8" y1="177" x2="368" y2="355.7"/>
</g>

<circle cx="278.7" cy="177.3" r="13.9" fill="#fff" stroke="#7df2fb" stroke-width="1.1"/><circle cx="278.7" cy="177.3" r="9.3" fill="#00e8fb"/>
<circle cx="209.1" cy="336.2" r="13.6" fill="#fff" stroke="#7df2fb" stroke-width="1.1"/><circle cx="209.1" cy="336.2" r="9.8" fill="#00e8fb"/>
<circle cx="279" cy="404.2" r="13.6" fill="#fff" stroke="#7df2fb" stroke-width="1.1"/><circle cx="279" cy="404.2" r="9.8" fill="#00e8fb"/>
<circle cx="368" cy="355.7" r="13.6" fill="#fff" stroke="#7df2fb" stroke-width="1.1"/><circle cx="368" cy="355.7" r="9.8" fill="#00e8fb"/>

<rect x="108.0" y="240.5" width="117.5" height="16.0" rx="3.4" fill="#acacaf"/>
<text x="111.6" y="252.6" textLength="110.3" lengthAdjust="spacingAndGlyphs" class="lb">Anterior Tibial Artery</text>
<circle cx="100.0" cy="248.7" r="4.9" fill="#a2a2a8" stroke="#fff" stroke-width="1.4"/>
<rect x="101.0" y="313.0" width="91.5" height="16.5" rx="3.4" fill="#acacaf"/>
<text x="104.6" y="325.3" textLength="84.3" lengthAdjust="spacingAndGlyphs" class="lb">Peroneal Artery</text>
<circle cx="94.5" cy="321.7" r="4.9" fill="#a2a2a8" stroke="#fff" stroke-width="1.4"/>
<rect x="110.7" y="381.0" width="123.3" height="16.0" rx="3.4" fill="#acacaf"/>
<text x="114.3" y="393.1" textLength="116.1" lengthAdjust="spacingAndGlyphs" class="lb">Posterior Tibial Artery</text>
<circle cx="103.2" cy="389.2" r="4.9" fill="#a2a2a8" stroke="#fff" stroke-width="1.4"/>
<rect x="70.0" y="450.7" width="118.7" height="16.3" rx="3.4" fill="#acacaf"/>
<text x="73.6" y="462.9" textLength="111.5" lengthAdjust="spacingAndGlyphs" class="lb">Lateral Plantar Artery</text>
<circle cx="196.7" cy="458.0" r="4.9" fill="#a2a2a8" stroke="#fff" stroke-width="1.4"/>
<rect x="206.0" y="418.0" width="120.7" height="15.5" rx="3.4" fill="#acacaf"/>
<text x="209.6" y="429.8" textLength="113.5" lengthAdjust="spacingAndGlyphs" class="lb">Medial Plantar Artery</text>
<circle cx="198.5" cy="425.5" r="4.9" fill="#a2a2a8" stroke="#fff" stroke-width="1.4"/>
<rect x="247.0" y="348.5" width="86.0" height="15.5" rx="3.4" fill="#acacaf"/>
<text x="250.6" y="360.3" textLength="78.8" lengthAdjust="spacingAndGlyphs" class="lb">Arcuate Artery</text>
<circle cx="236.0" cy="355.0" r="4.9" fill="#a2a2a8" stroke="#fff" stroke-width="1.4"/>
<rect x="271.7" y="371.7" width="111.3" height="16.0" rx="3.4" fill="#acacaf"/>
<text x="275.3" y="383.8" textLength="104.1" lengthAdjust="spacingAndGlyphs" class="lb">Lateral Tarsal Artery</text>
<circle cx="264.0" cy="379.8" r="4.9" fill="#a2a2a8" stroke="#fff" stroke-width="1.4"/>
<rect x="298.5" y="328.0" width="112.5" height="16.0" rx="3.4" fill="#acacaf"/>
<text x="302.1" y="340.1" textLength="105.3" lengthAdjust="spacingAndGlyphs" class="lb">Dorsalls Pedisartery</text>
<circle cx="292.0" cy="335.5" r="4.9" fill="#a2a2a8" stroke="#fff" stroke-width="1.4"/>
<rect x="402.7" y="364.7" width="112.8" height="15.3" rx="3.4" fill="#acacaf"/>
<text x="406.3" y="376.4" textLength="105.6" lengthAdjust="spacingAndGlyphs" class="lb">Deep Plantar Artery</text>
<circle cx="394.8" cy="372.2" r="4.9" fill="#a2a2a8" stroke="#fff" stroke-width="1.4"/>

<text x="0.80" y="118.5" textLength="104.8" lengthAdjust="spacingAndGlyphs" class="t1">Titanium</text>
<text x="1.37" y="118.5" textLength="104.8" lengthAdjust="spacingAndGlyphs" class="t1">Titanium</text>
<text x="1.93" y="118.5" textLength="104.8" lengthAdjust="spacingAndGlyphs" class="t1">Titanium</text>
<text x="2.50" y="118.5" textLength="104.8" lengthAdjust="spacingAndGlyphs" class="t1">Titanium</text>
<text x="113.50" y="118.5" textLength="136.6" lengthAdjust="spacingAndGlyphs" class="t1">Stimuilates</text>
<text x="114.07" y="118.5" textLength="136.6" lengthAdjust="spacingAndGlyphs" class="t1">Stimuilates</text>
<text x="114.63" y="118.5" textLength="136.6" lengthAdjust="spacingAndGlyphs" class="t1">Stimuilates</text>
<text x="115.20" y="118.5" textLength="136.6" lengthAdjust="spacingAndGlyphs" class="t1">Stimuilates</text>
<text x="259.30" y="118.5" textLength="13.6" lengthAdjust="spacingAndGlyphs" class="t1">3</text>
<text x="259.87" y="118.5" textLength="13.6" lengthAdjust="spacingAndGlyphs" class="t1">3</text>
<text x="260.43" y="118.5" textLength="13.6" lengthAdjust="spacingAndGlyphs" class="t1">3</text>
<text x="261.00" y="118.5" textLength="13.6" lengthAdjust="spacingAndGlyphs" class="t1">3</text>
<text x="281.50" y="118.5" textLength="94.3" lengthAdjust="spacingAndGlyphs" class="t1">Primary</text>
<text x="282.07" y="118.5" textLength="94.3" lengthAdjust="spacingAndGlyphs" class="t1">Primary</text>
<text x="282.63" y="118.5" textLength="94.3" lengthAdjust="spacingAndGlyphs" class="t1">Primary</text>
<text x="283.20" y="118.5" textLength="94.3" lengthAdjust="spacingAndGlyphs" class="t1">Primary</text>
<text x="385.20" y="118.5" textLength="86.9" lengthAdjust="spacingAndGlyphs" class="t1">Growth</text>
<text x="385.77" y="118.5" textLength="86.9" lengthAdjust="spacingAndGlyphs" class="t1">Growth</text>
<text x="386.33" y="118.5" textLength="86.9" lengthAdjust="spacingAndGlyphs" class="t1">Growth</text>
<text x="386.90" y="118.5" textLength="86.9" lengthAdjust="spacingAndGlyphs" class="t1">Growth</text>
<text x="478.20" y="118.5" textLength="119.9" lengthAdjust="spacingAndGlyphs" class="t1">Acupoints</text>
<text x="478.77" y="118.5" textLength="119.9" lengthAdjust="spacingAndGlyphs" class="t1">Acupoints</text>
<text x="479.33" y="118.5" textLength="119.9" lengthAdjust="spacingAndGlyphs" class="t1">Acupoints</text>
<text x="479.90" y="118.5" textLength="119.9" lengthAdjust="spacingAndGlyphs" class="t1">Acupoints</text>
<text x="119.3" y="149.2" textLength="127.2" lengthAdjust="spacingAndGlyphs" class="t2">Generate</text>
<text x="257.8" y="149.2" textLength="69.9" lengthAdjust="spacingAndGlyphs" class="t2">New</text>
<text x="334.3" y="149.2" textLength="70.7" lengthAdjust="spacingAndGlyphs" class="t2">Bone</text>
<text x="415.5" y="149.2" textLength="66.7" lengthAdjust="spacingAndGlyphs" class="t2">Cells</text>
</svg>
</body></html>
